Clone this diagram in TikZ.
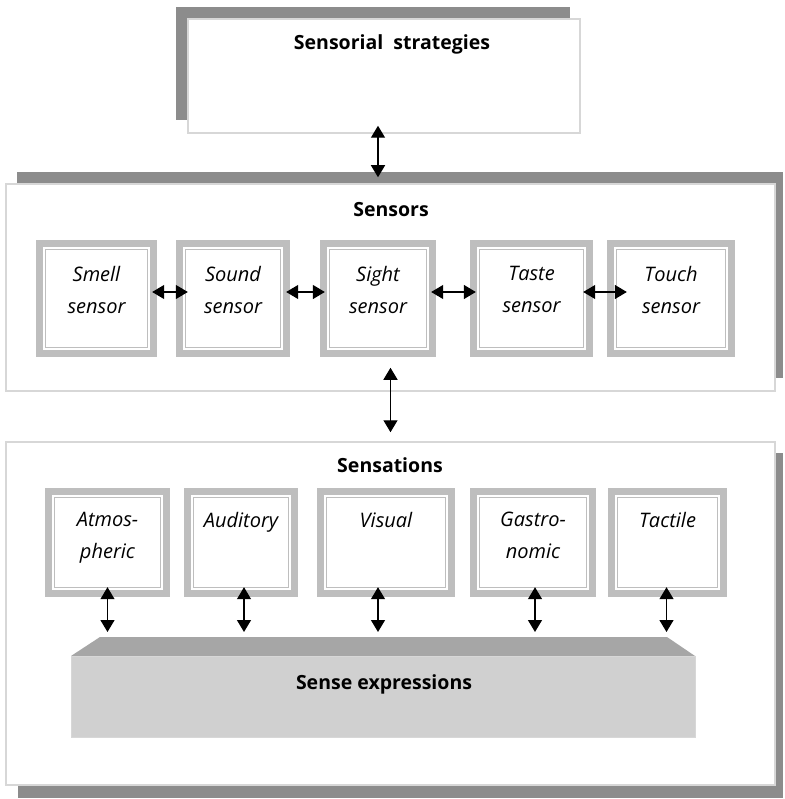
\documentclass[tikz,border=0pt]{standalone}
\usepackage{fontspec}
\setmainfont{Open Sans}
\usetikzlibrary{arrows.meta,positioning}
\definecolor{shadowGray}{RGB}{140,140,140}
\definecolor{frameGray}{RGB}{190,190,190}
\definecolor{borderGray}{RGB}{215,215,215}
\definecolor{slabTopGray}{RGB}{166,166,166}
\definecolor{slabFrontGray}{RGB}{208,208,208}

\begin{document}
\begin{tikzpicture}
[x=1pt,y=-1pt,
  twoArrow/.style={{Triangle[length=12pt,width=14pt]}-{Triangle[length=12pt,width=14pt]},line width=1.3pt},%
  panelBox/.style={shape=rectangle,fill=white,draw=borderGray,line width=1.5pt,inner sep=0pt},%
  senseFrame/.style={shape=rectangle,fill=frameGray,inner sep=0pt,
    path picture={
      \fill[white] ([shift={(7pt,-7pt)}]path picture bounding box.north west) rectangle ([shift={(-7pt,7pt)}]path picture bounding box.south east);
      \draw[frameGray,line width=1.6pt] ([shift={(9.5pt,-9.5pt)}]path picture bounding box.north west) rectangle ([shift={(-9.5pt,9.5pt)}]path picture bounding box.south east);
    }},%
  senseText/.style={font=\fontsize{20}{32.5}\selectfont\itshape,align=center,inner sep=0pt},%
  titleText/.style={font=\fontsize{19.5}{23}\selectfont\bfseries,anchor=base,inner sep=0pt}]
\useasboundingbox (0,0) rectangle (784,799);
%% shadows
\fill[shadowGray] (176,7) rectangle (570,120);
\fill[shadowGray] (17,172) rectangle (783,378);
\fill[shadowGray] (18,453) rectangle (783,798);
%% panels
\node (strat) at (384,76) [panelBox,minimum width=392pt,minimum height=114pt] {};
\node (sensors) at (390.5,287.5) [panelBox,minimum width=769pt,minimum height=207pt] {};
\node (sensations) at (390.5,613.5) [panelBox,minimum width=769pt,minimum height=343pt] {};
\node (stratTitle) at (392,50) [titleText] {Sensorial~~strategies};
\node (sensorsTitle) at (391,217) [titleText] {Sensors};
\node (sensationsTitle) at (390,472) [titleText] {Sensations};
%% sensor boxes
\foreach \nodename/\x/\w/\txt in {smell/96.5/121/{Smell\\sensor}, sound/233/114/{Sound\\sensor},
  sight/378/116/{Sight\\sensor}, taste/531.5/123/{Taste\\sensor}, touch/671/128/{Touch\\sensor}}
{
  \node (\nodename) at (\x,298.5) [senseFrame,minimum width=\w pt,minimum height=117pt] {};
  \node (\nodename-text) [senseText,below=26pt of \nodename.north] {\txt};
}
%% sensation boxes
\foreach \nodename/\x/\w/\txt in {atmo/107.5/125/{Atmos-\\pheric}, audi/241/114/{Auditory},
  visu/386/138/{Visual}, gast/533/126/{Gastro-\\nomic}, tact/667.5/119/{Tactile}}
{
  \node (\nodename) at (\x,542.5) [senseFrame,minimum width=\w pt,minimum height=109pt] {};
  \node (\nodename-text) [senseText,below=24pt of \nodename.north] {\txt};
}
%% sense expressions slab
\fill[slabTopGray] (100,637) -- (667,637) -- (695,656) -- (71,656) -- cycle;
\coordinate (slabTop) at (383,637);
\node (expr) at (383,696.5) [shape=rectangle,fill=slabFrontGray,draw=borderGray,line width=0.8pt,
  minimum width=624pt,minimum height=81pt,inner sep=0pt] {};
\node (exprTitle) at (384,689) [titleText] {Sense expressions};
%% arrows
\path
([xshift=-6pt]strat.south) edge[twoArrow,shorten <=-8pt,shorten >=6pt] ([xshift=-6pt]strat.south |- sensors.north)
(sensors.south) edge[twoArrow,shorten <=-24pt,shorten >=9pt] (sensations.north)
\foreach \startnode/\endnode/\a/\b in {smell/sound/-5/-12, sound/sight/-4/-5, sight/taste/-5/-6, taste/touch/-10/-20}
{
  ([yshift=6.5pt]\startnode.east) edge[twoArrow,shorten <=\a pt,shorten >=\b pt] ([yshift=6.5pt]\endnode.west)
}
\foreach \nodename/\dx in {atmo/0, audi/3, visu/-8, gast/2, tact/-1}
{
  ([xshift=\dx pt]\nodename.south) edge[twoArrow,shorten <=-10pt,shorten >=5pt] ([xshift=\dx pt]\nodename.south |- slabTop)
};
\end{tikzpicture}
\end{document}
